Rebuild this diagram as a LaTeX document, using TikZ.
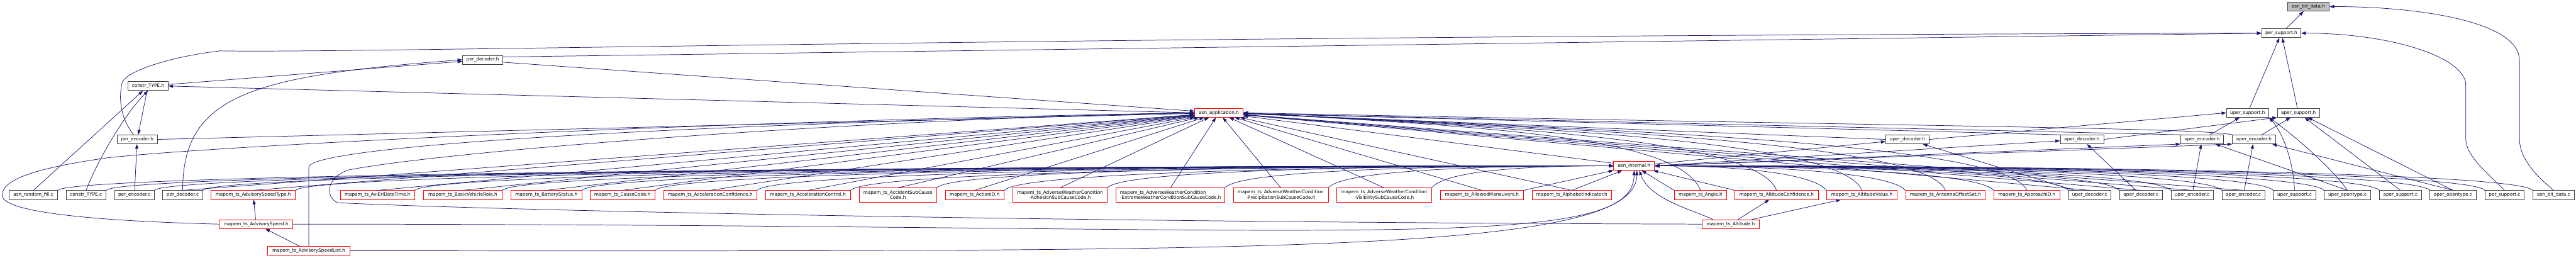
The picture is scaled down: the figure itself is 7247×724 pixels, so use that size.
\documentclass[tikz,border=0pt]{standalone}
\usepackage{fontspec}
\newfontfamily\dvs{DejaVu Sans}
\usetikzlibrary{arrows.meta,calc}
\definecolor{edgeblue}{HTML}{191970}
\definecolor{boxred}{HTML}{FF0000}
\definecolor{boxgray}{HTML}{BFBFBF}
\definecolor{boxline}{HTML}{404040}
\begin{document}
\begin{tikzpicture}[x=1pt,y=-1pt,
  nbox/.style={draw=boxline, fill=white, line width=1.3pt, inner sep=0pt, minimum height=25pt, align=center, font=\dvs\fontsize{12.9}{14.5}\selectfont},
  rnode/.style={nbox, draw=boxred},
  gnode/.style={nbox, fill=boxgray},
  tall/.style={minimum height=39.3pt},
  dep/.style={draw=edgeblue, line width=1.3pt, -{Triangle[length=13pt,width=9pt]}},
]
\useasboundingbox (0,0) rectangle (7247,724);
\fill[white] (0,0) rectangle (7247,724);

% ---------- nodes ----------
\node[gnode, minimum width=118pt] (bitdatah) at (6494,18.5) {asn\_bit\_data.h};
\node[nbox, minimum width=110pt] (persuph) at (6418,93.3) {per\_support.h};
\node[nbox, minimum width=114pt] (perdech) at (1358,168) {per\_decoder.h};
\node[nbox, minimum width=113pt] (constrh) at (416.5,242) {constr\_TYPE.h};
\node[rnode, minimum width=136pt] (apph) at (3429,317.2) {asn\_application.h};
\node[nbox, minimum width=119pt] (upersuph) at (6323,317.2) {uper\_support.h};
\node[nbox, minimum width=119pt] (apersuph) at (6466,317.2) {aper\_support.h};
\node[nbox, minimum width=114pt] (perench) at (386,392) {per\_encoder.h};
\node[nbox, minimum width=122pt] (uperdech) at (5366,392) {uper\_decoder.h};
\node[nbox, minimum width=122pt] (aperdech) at (5857,392) {aper\_decoder.h};
\node[nbox, minimum width=121pt] (uperench) at (6195,392) {uper\_encoder.h};
\node[nbox, minimum width=121pt] (aperench) at (6341,392) {aper\_encoder.h};
\node[rnode, minimum width=115pt] (inth) at (4597,466.3) {asn\_internal.h};

\node[nbox, minimum width=136pt] (randfillc) at (94,548.3) {asn\_random\_fill.c};
\node[nbox, minimum width=112pt] (constrc) at (242,548.3) {constr\_TYPE.c};
\node[nbox, minimum width=112pt] (perencc) at (378,548.3) {per\_encoder.c};
\node[nbox, minimum width=112pt] (perdecc) at (514,548.3) {per\_decoder.c};
\node[rnode, minimum width=237pt] (advtype) at (712.5,548.3) {mapem\_ts\_AdvisorySpeedType.h};
\node[rnode, minimum width=210pt] (avieri) at (1062,548.3) {mapem\_ts\_AviEriDateTime.h};
\node[rnode, minimum width=222pt] (basicveh) at (1302,548.3) {mapem\_ts\_BasicVehicleRole.h};
\node[rnode, minimum width=199pt] (battery) at (1537,548.3) {mapem\_ts\_BatteryStatus.h};
\node[rnode, minimum width=183pt] (causecode) at (1751,548.3) {mapem\_ts\_CauseCode.h};
\node[rnode, minimum width=262pt] (accconf) at (1998,548.3) {mapem\_ts\_AccelerationConfidence.h};
\node[rnode, minimum width=239pt] (accctrl) at (2273,548.3) {mapem\_ts\_AccelerationControl.h};
\node[rnode, tall, minimum width=218pt] (accsub) at (2526,548.3) {mapem\_ts\_AccidentSubCause\\Code.h};
\node[rnode, minimum width=166pt] (actionid) at (2742,548.3) {mapem\_ts\_ActionID.h};
\node[rnode, tall, minimum width=266pt] (adhesion) at (2982,548.3) {mapem\_ts\_AdverseWeatherCondition\\-AdhesionSubCauseCode.h};
\node[rnode, tall, minimum width=306pt, align=left] (extreme) at (3293,548.3) {mapem\_ts\_AdverseWeatherCondition\\-ExtremeWeatherConditionSubCauseCode.h};
\node[rnode, tall, minimum width=267pt] (precip) at (3603,548.3) {mapem\_ts\_AdverseWeatherCondition\\-PrecipitationSubCauseCode.h};
\node[rnode, tall, minimum width=266pt] (visib) at (3894,548.3) {mapem\_ts\_AdverseWeatherCondition\\-VisibilitySubCauseCode.h};
\node[rnode, minimum width=234pt] (allowed) at (4169,548.3) {mapem\_ts\_AllowedManeuvers.h};
\node[rnode, minimum width=224pt] (alphabet) at (4422,548.3) {mapem\_ts\_AlphabetIndicator.h};
\node[rnode, minimum width=147pt] (anglen) at (4784,548.3) {mapem\_ts\_Angle.h};
\node[rnode, minimum width=234pt] (altconf) at (4998,548.3) {mapem\_ts\_AltitudeConfidence.h};
\node[rnode, minimum width=198pt] (altval) at (5238,548.3) {mapem\_ts\_AltitudeValue.h};
\node[rnode, minimum width=224pt] (antenna) at (5473,548.3) {mapem\_ts\_AntennaOffsetSet.h};
\node[rnode, minimum width=185pt] (approach) at (5702,548.3) {mapem\_ts\_ApproachID.h};
\node[nbox, minimum width=119pt] (uperdecc) at (5879,548.3) {uper\_decoder.c};
\node[nbox, minimum width=120pt] (aperdecc) at (6023,548.3) {aper\_decoder.c};
\node[nbox, minimum width=119pt] (uperencc) at (6167,548.3) {uper\_encoder.c};
\node[nbox, minimum width=120pt] (aperencc) at (6311,548.3) {aper\_encoder.c};
\node[nbox, minimum width=119pt] (upersupc) at (6455,548.3) {uper\_support.c};
\node[nbox, minimum width=131pt] (uperopenc) at (6604,548.3) {uper\_opentype.c};
\node[nbox, minimum width=118pt] (apersupc) at (6753,548.3) {aper\_support.c};
\node[nbox, minimum width=130pt] (aperopenc) at (6901,548.3) {aper\_opentype.c};
\node[nbox, minimum width=110pt] (persupc) at (7046,548.3) {per\_support.c};
\node[nbox, minimum width=117pt] (bitdatac) at (7184,548.3) {asn\_bit\_data.c};

\node[rnode, minimum width=207pt] (advspeed) at (720.5,630.2) {mapem\_ts\_AdvisorySpeed.h};
\node[rnode, minimum width=162pt] (altitude) at (4869,630.2) {mapem\_ts\_Altitude.h};
\node[rnode, minimum width=231pt] (advlist) at (868.7,705.2) {mapem\_ts\_AdvisorySpeedList.h};

% ---------- waypoints ----------
\coordinate (wb1) at (7088,390); \coordinate (wb2) at (7088,170);
\coordinate (ws1) at (6937,392); \coordinate (ws2) at (6937,240);
\coordinate (wp1) at (344,231);  \coordinate (wp2) at (620,143);
\coordinate (wv1) at (6,549);    \coordinate (wv2) at (300,444);
\coordinate (wl1) at (868.7,470);
\coordinate (wa1) at (950,570);  \coordinate (wa2) at (980,478);

% ---------- top structure ----------
\draw[dep] (persuph) -- (bitdatah);
\draw[dep] (bitdatac.north) .. controls +(-60,-50) and +(0,50) .. (wb1) -- (wb2) .. controls +(0,-110) and +(250,0) .. (bitdatah.east);
\draw[dep] (persupc.north) .. controls +(-50,-50) and +(0,45) .. (ws1) -- (ws2) .. controls +(0,-80) and +(250,0) .. (persuph.east);
\draw[dep] ($(perdech.east)+(0,-8)$) -- (persuph.west);
\draw[dep] ($(perench.north)+(-10,0)$) .. controls +(-40,-50) and +(-10,40) .. (wp1) .. controls +(14,-31) and +(-146,17) .. (wp2) .. controls +(380,7) and +(-3363,7) .. (persuph.west);
\draw[dep] (upersuph) -- (persuph);
\draw[dep] (apersuph) -- (persuph);

\draw[dep] (constrh) -- (perdech);
\draw[dep] (perdecc.north) .. controls +(0,-265) and +(-600,45) .. (perdech.west);
\draw[dep] (constrh) -- (perench);
\draw[dep] (perencc) -- (perench);
\draw[dep] (randfillc.north) -- (constrh);
\draw[dep] (constrc.north) .. controls +(33,-85) and +(-66,66) .. (constrh.south);
\draw[dep] (apph.west) -- (constrh.east);

\draw[dep] ($(perdech.east)+(0,7)$) -- (apph);
\draw[dep] (perench.east) -- (apph);
\draw[dep] (inth) -- (apph);
\draw[dep] (uperdech.west) -- (apph);
\draw[dep] (aperdech.north west) -- (apph);
\draw[dep] (uperench.north west) -- (apph);
\draw[dep] (aperench.north west) .. controls +(-100,-20) and +(2000,40) .. (apph.east);

\draw[dep] (uperdech.east) -- (upersuph.west);
\draw[dep] (aperdech.east) -- (apersuph.south west);
\draw[dep] (uperench) -- (upersuph);
\draw[dep] (aperench) -- (apersuph);
\draw[dep] (upersupc.north) .. controls +(-3,-85) and +(37,40) .. (upersuph.south east);
\draw[dep] (uperopenc.north) .. controls +(-44,-65) and +(57,40) .. (upersuph.south east);
\draw[dep] (uperopenc.north) -- (uperench);
\draw[dep] (apersupc.north) -- (apersuph);
\draw[dep] (aperopenc.north) -- (apersuph);
\draw[dep] (aperopenc.north) -- (aperench);
\draw[dep] (uperencc) -- (uperench);
\draw[dep] (aperencc) -- (aperench);
\draw[dep] (uperdecc) -- (uperdech);
\draw[dep] (aperdecc) -- (aperdech);
\draw[dep] (inth) -- (uperdech);
\draw[dep] (inth.east) -- (aperdech);
\draw[dep] (inth.east) -- (uperench.south west);
\draw[dep] (inth.east) -- (aperench.south west);

% ---------- advisory speed group ----------
\draw[dep] (advspeed) -- (advtype);
\draw[dep] (advlist) -- (advspeed);
\draw[dep] (advspeed.west) .. controls +(-317,-8) and +(0,51) .. (wv1) .. controls +(0,-49) and +(-180,26) .. (wv2) .. controls +(300,-34) and +(-1361,23) .. (apph.west);
\draw[dep] (advspeed.east) .. controls +(2976,0) and +(0,240) .. (inth.south);
\draw[dep] (advlist.east) .. controls +(2516,0) and +(0,240) .. ($(inth.south)+(8,0)$);
\draw[dep] (advlist.north) -- (wl1) .. controls +(0,-40) and +(-2000,48) .. (apph.west);

% ---------- altitude group ----------
\draw[dep] (altitude) -- (altconf);
\draw[dep] (altitude) -- (altval);
\draw[dep] ($(altitude.north)+(-50,0)$) .. controls +(-59,-28) and +(28,81) .. ($(inth.south)+(15,0)$);
\draw[dep] (altitude.west) .. controls +(-1788,-5) and +(450,22) .. (wa1) .. controls +(-35,-15) and +(-65,22) .. (wa2) .. controls +(270,-53) and +(-961,18) .. (apph.west);

% ---------- bottom row to asn_application.h ----------
\foreach \n in {perdecc, advtype, avieri, basicveh, battery, causecode, accconf, accctrl, accsub, actionid, adhesion, extreme, precip, visib, allowed, alphabet, uperdecc, aperdecc, uperencc, aperencc}
  \draw[dep] (\n.north) -- (apph);
\foreach \n in {anglen, altconf, altval, antenna, approach}
  \draw[dep] (\n.north) .. controls +(-60,-150) and +(700,40) .. (apph.east);

% ---------- bottom row to asn_internal.h ----------
\foreach \n/\d in {randfillc/1500, constrc/1500, perencc/1500, perdecc/1500, advtype/1500, avieri/1500, basicveh/1400, battery/1300, causecode/1200, accconf/1085, accctrl/966, accsub/857, actionid/771, adhesion/641, extreme/492, precip/361, visib/230}
  \draw[dep] (\n.north east) .. controls +(40,-50) and +(-\d,0) .. (inth.west);
\draw[dep] (allowed.north east) -- (inth);
\draw[dep] (alphabet.north) -- (inth);
\draw[dep] (anglen.north west) -- (inth);
\draw[dep] (altconf.north west) -- (inth);
\foreach \n/\d in {altval/218, antenna/318, approach/430, uperdecc/525, aperdecc/589, uperencc/654, aperencc/719, upersupc/784, uperopenc/848, apersupc/918, aperopenc/982, persupc/1052, bitdatac/1112}
  \draw[dep] (\n.north west) .. controls +(-40,-50) and +(\d,0) .. (inth.east);
\end{tikzpicture}
\end{document}
